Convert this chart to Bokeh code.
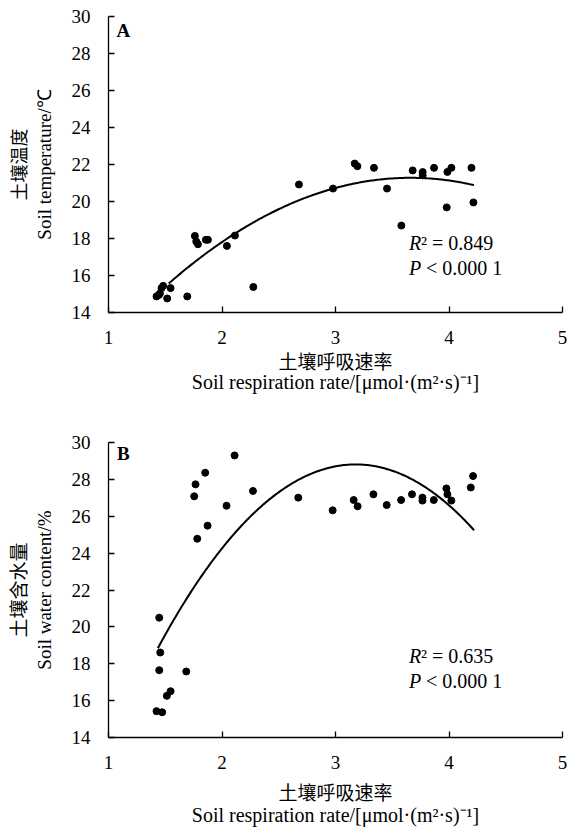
from bokeh.plotting import figure
from bokeh.layouts import column
from bokeh.models import LinearAxis, Range1d, FixedTicker, Label, ColumnDataSource
from bokeh.embed import file_html
from bokeh.resources import INLINE
import numpy as np

# ---------------- data ----------------
x_ticks = [1, 2, 3, 4, 5]
y_ticks = [14, 16, 18, 20, 22, 24, 26, 28, 30]

resp_a = [1.423, 1.444, 1.453, 1.467, 1.482, 1.517, 1.547, 1.694, 1.761, 1.773,
          1.788, 1.858, 1.876, 2.043, 2.114, 2.276, 2.678, 2.978, 3.169, 3.193,
          3.339, 3.454, 3.580, 3.680, 3.768, 3.768, 3.868, 3.986, 4.021, 3.980,
          4.198, 4.215]
temp_a = [14.87, 14.95, 15.03, 15.32, 15.44, 14.76, 15.32, 14.87, 18.14, 17.84,
          17.69, 17.93, 17.93, 17.60, 18.16, 15.38, 20.92, 20.70, 22.05, 21.91,
          21.82, 20.70, 18.70, 21.68, 21.59, 21.41, 21.82, 21.60, 21.82, 19.68,
          21.82, 19.95]

resp_b = [1.423, 1.473, 1.447, 1.456, 1.447, 1.514, 1.547, 1.685, 1.755, 1.767,
          1.852, 1.782, 1.873, 2.040, 2.111, 2.273, 2.672, 2.975, 3.160, 3.195,
          3.334, 3.451, 3.578, 3.674, 3.766, 3.766, 3.866, 3.977, 3.986, 4.021,
          4.192, 4.212]
water_b = [15.43, 15.37, 20.50, 18.61, 17.65, 16.26, 16.51, 17.58, 27.08, 27.73,
           28.36, 24.78, 25.49, 26.57, 29.30, 27.37, 27.01, 26.32, 26.88, 26.54,
           27.19, 26.61, 26.88, 27.19, 27.01, 26.85, 26.88, 27.51, 27.19, 26.85,
           27.56, 28.18]

# quadratic fits (vertex form: a, h, k) and x-range of fitted curves
fit_a = [-1.26, 3.66, 21.28]
fit_a_range = [1.53, 4.22]
fit_b = [-3.28, 3.178, 28.81]
fit_b_range = [1.435, 4.221]

stats_a = ["0.849", "0.000 1"]
stats_b = ["0.635", "0.000 1"]

cn_x_label = "土壤呼吸速率"
en_x_label = "Soil respiration rate/[\u03bcmol\u00b7(m\u00b2\u00b7s)\u207b\u00b9]"

SERIF = "Liberation Serif"
CJK = "Noto Sans CJK SC"


def make_panel(xs, ys, fit, frange, stats, letter, cn_y, en_y, height,
               top, bottom, stat_y, letter_y, tick_standoff_x, cn_x_standoff,
               en_x_standoff, cn_y_size, cn_y_standoff):
    p = figure(width=568, height=height, x_range=Range1d(1, 5), y_range=Range1d(14, 30),
               output_backend="svg", toolbar_location=None,
               min_border_left=108, min_border_right=6,
               min_border_top=top, min_border_bottom=bottom)
    p.outline_line_color = None
    p.grid.visible = False
    p.background_fill_color = "white"
    p.border_fill_color = "white"

    # primary axes
    for ax, ticks in ((p.xaxis[0], x_ticks), (p.yaxis[0], y_ticks)):
        ax.ticker = FixedTicker(ticks=ticks)
        ax.axis_line_color = "black"
        ax.axis_line_width = 1.3
        ax.major_tick_line_color = "black"
        ax.major_tick_line_width = 1.3
        ax.major_tick_in = 6
        ax.major_tick_out = 0
        ax.minor_tick_line_color = None
        ax.major_label_text_font = SERIF
        ax.major_label_text_font_size = "19px"
        ax.major_label_text_color = "black"
        ax.axis_label_text_font_style = "normal"
        ax.axis_label_text_color = "black"
    p.xaxis[0].major_label_standoff = tick_standoff_x
    p.yaxis[0].major_label_standoff = 18
    p.xaxis[0].axis_label = cn_x_label
    p.xaxis[0].axis_label_text_font = CJK
    p.xaxis[0].axis_label_text_font_size = "19px"
    p.xaxis[0].axis_label_standoff = cn_x_standoff
    p.yaxis[0].axis_label = en_y
    p.yaxis[0].axis_label_text_font = SERIF
    p.yaxis[0].axis_label_text_font_size = "19px"
    p.yaxis[0].axis_label_standoff = 14

    # secondary (label-only) axes
    ex = LinearAxis(axis_label=en_x_label, ticker=FixedTicker(ticks=[]),
                    axis_line_color=None, major_tick_line_color=None,
                    minor_tick_line_color=None, major_label_text_font_size="0px",
                    major_label_standoff=0, major_tick_out=0, major_tick_in=0,
                    axis_label_standoff=en_x_standoff, axis_label_text_font=SERIF,
                    axis_label_text_font_size="20px", axis_label_text_font_style="normal",
                    axis_label_text_color="black")
    p.add_layout(ex, "below")
    ey = LinearAxis(axis_label=cn_y, ticker=FixedTicker(ticks=[]),
                    axis_line_color=None, major_tick_line_color=None,
                    minor_tick_line_color=None, major_label_text_font_size="0px",
                    major_label_standoff=0, major_tick_out=0, major_tick_in=0,
                    axis_label_standoff=cn_y_standoff, axis_label_text_font=CJK,
                    axis_label_text_font_size=cn_y_size, axis_label_text_font_style="normal",
                    axis_label_text_color="black")
    p.add_layout(ey, "left")

    # scatter points
    src = ColumnDataSource(dict(x=xs, y=ys))
    p.scatter("x", "y", source=src, size=7, color="black", line_color="black")

    # fitted curve
    a, h, k = fit
    cx = np.linspace(frange[0], frange[1], 200)
    cy = a * (cx - h) ** 2 + k
    p.line(cx, cy, line_color="black", line_width=2)

    # panel letter
    p.add_layout(Label(x=1.13, y=letter_y, text=letter, text_font=SERIF,
                       text_font_size="19px", text_font_style="bold",
                       text_align="center", text_baseline="middle", text_color="black"))

    # statistics
    sx = 3.648
    p.add_layout(Label(x=sx, y=stat_y[0], text="R", text_font=SERIF, text_font_size="20px",
                       text_font_style="italic", text_baseline="middle", text_color="black"))
    p.add_layout(Label(x=sx, y=stat_y[0], x_offset=12, text="\u00b2 = " + stats[0],
                       text_font=SERIF, text_font_size="20px",
                       text_baseline="middle", text_color="black"))
    p.add_layout(Label(x=sx, y=stat_y[1], text="P", text_font=SERIF, text_font_size="20px",
                       text_font_style="italic", text_baseline="middle", text_color="black"))
    p.add_layout(Label(x=sx, y=stat_y[1], x_offset=17, text="< " + stats[1],
                       text_font=SERIF, text_font_size="20px",
                       text_baseline="middle", text_color="black"))
    return p


pA = make_panel(resp_a, temp_a, fit_a, fit_a_range, stats_a, "A",
                "土壤温度", "Soil temperature/\u2103", 400, 16, 88,
                (17.78, 16.43), 29.23, 18, 0, -6, "18px", 0)
pB = make_panel(resp_b, water_b, fit_b, fit_b_range, stats_b, "B",
                "土壤含水量", "Soil water content/%", 434, 42, 97,
                (18.43, 17.06), 29.43, 18, 6, -4, "19px", 0)

layout = column(pA, pB, spacing=0)
open("out.html", "w").write(file_html(layout, INLINE))
